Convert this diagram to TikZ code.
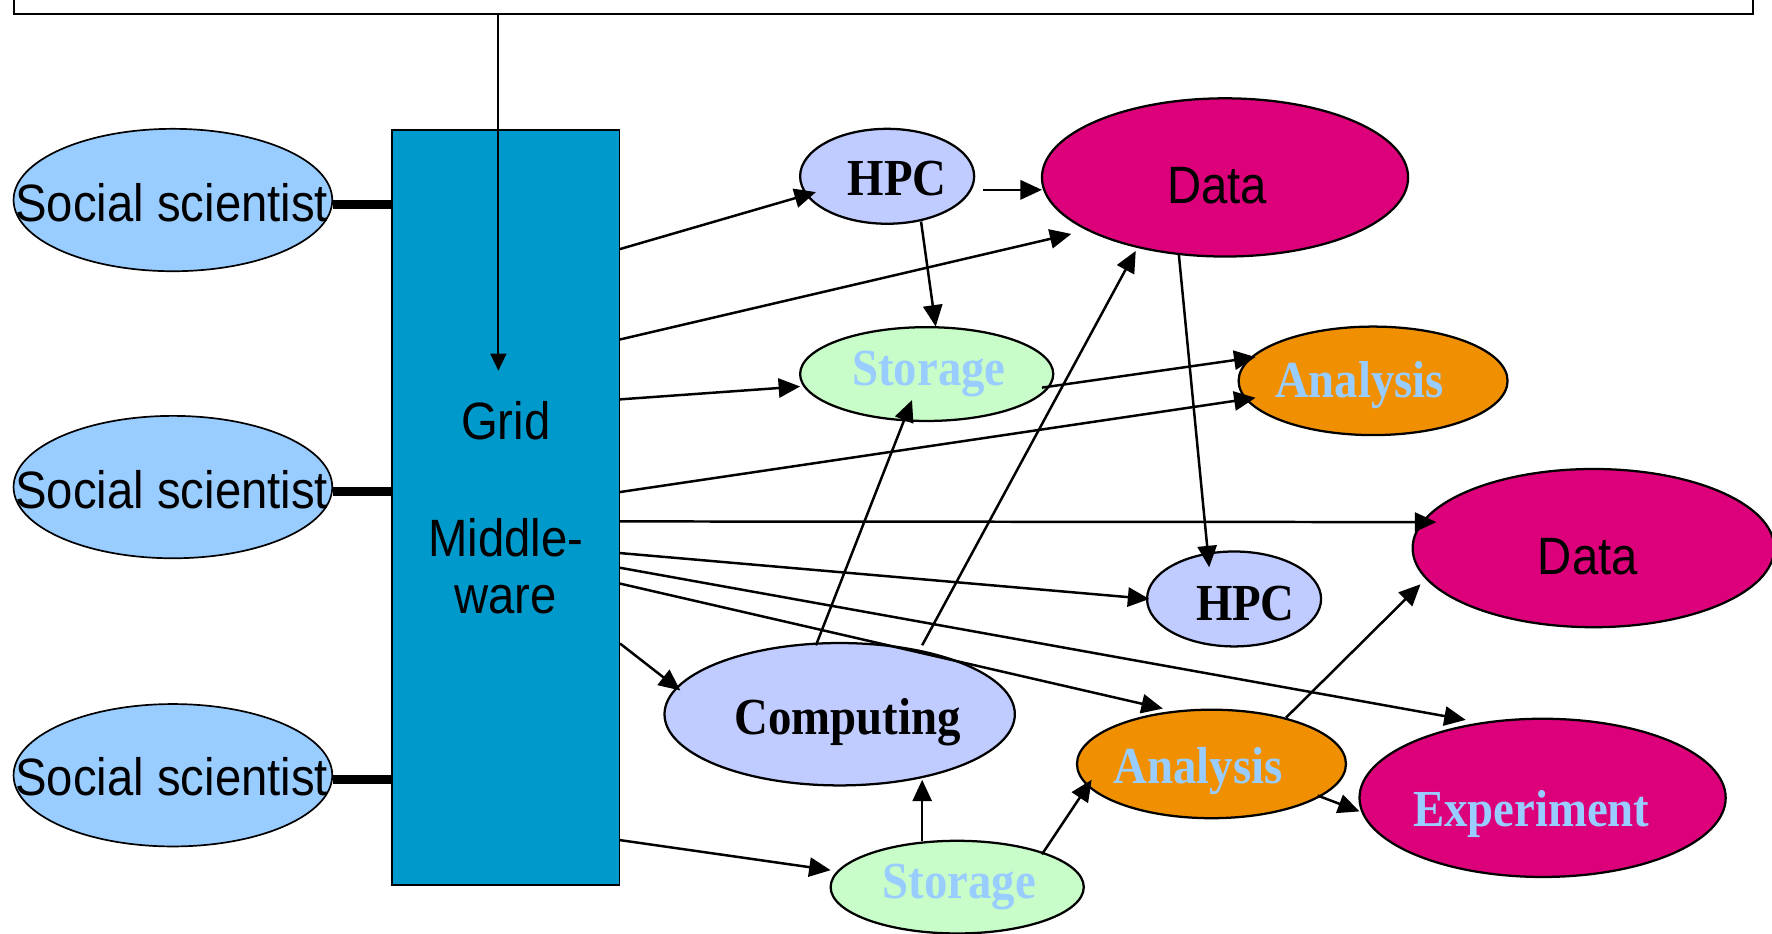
\documentclass[tikz,border=0pt]{standalone}
\usepackage{fontspec}
\setmainfont{Liberation Sans}[FakeStretch=0.9]
\newfontfamily\tnr{Liberation Serif}[FakeStretch=0.9]
\usetikzlibrary{shapes.geometric,arrows.meta}
\definecolor{ssblue}{HTML}{99CCFF}
\definecolor{mwblue}{HTML}{0099CC}
\definecolor{peri}{HTML}{C0CCFF}
\definecolor{magen}{HTML}{DC007A}
\definecolor{stgreen}{HTML}{C8FCC8}
\definecolor{anaor}{HTML}{F09000}
\definecolor{labblue}{HTML}{99CCFF}
\begin{document}
\begin{tikzpicture}[x=1pt,y=-1pt,
  ell/.style={ellipse, draw, line width=2pt, inner sep=0pt},
  ssnode/.style={ell, fill=ssblue, minimum width=282pt, minimum height=126pt, line width=1.5pt},
  hpcnode/.style={ell, fill=peri, minimum width=154pt, minimum height=84pt},
  datanode/.style={ell, fill=magen, minimum width=324pt, minimum height=140pt},
  stonode/.style={ell, fill=stgreen, minimum width=224pt, minimum height=83pt},
  ananode/.style={ell, fill=anaor, minimum width=238pt, minimum height=96pt},
  sanstxt/.style={anchor=base, inner sep=0pt, font=\fontsize{46.5}{50}\selectfont},
  seriftxt/.style={anchor=base, inner sep=0pt, font=\tnr\bfseries\fontsize{46}{50}\selectfont},
  lighttxt/.style={seriftxt, text=labblue},
  arr/.style={line width=2.2pt, -{Triangle[length=19pt,width=17pt]}},
  arrthin/.style={line width=1.8pt, -{Triangle[length=15pt,width=14pt]}},
  thickline/.style={line width=8pt},
]
\useasboundingbox (0,0) rectangle (1568,826);
\fill[white] (0,0) rectangle (1568,826);
\clip (0,0) rectangle (1568,826);

% top note box (cut off by the picture edge)
\node[draw, line width=1.8pt, minimum width=1539pt, minimum height=80pt, inner sep=0pt] (note) at (781.5,-28) {};

% social scientists
\node[ssnode] (ss1) at (153,177) {};
\node[ssnode] (ss2) at (153,431) {};
\node[ssnode] (ss3) at (153,686) {};

% middleware
\node[draw, line width=1.2pt, fill=mwblue, minimum width=201pt, minimum height=668pt, inner sep=0pt,
      align=center, font=\fontsize{46.5}{50}\selectfont] (mw) at (447.5,449) {Grid\\[54pt]Middle-\\ware};

% resources
\node[hpcnode] (hpc1) at (785,156) {};
\node[datanode] (data1) at (1084,157) {};
\node[stonode] (sto1) at (820,331) {};
\node[ananode] (ana1) at (1215,337) {};
\node[datanode, minimum width=320pt] (data2) at (1410,485) {};
\node[hpcnode] (hpc2) at (1092,530) {};
\node[ell, fill=peri, minimum width=310pt, minimum height=126pt] (comp) at (743,632) {};
\node[ananode] (ana2) at (1072,676) {};
\node[datanode] (exp) at (1365,706) {};
\node[stonode, minimum height=82pt] (sto2) at (847,785) {};

% texts
\node[sanstxt] (ss1t) at ([shift={(-1,19)}]ss1.center) {Social scientist};
\node[sanstxt] (ss2t) at ([shift={(-1,19)}]ss2.center) {Social scientist};
\node[sanstxt] (ss3t) at ([shift={(-1,18)}]ss3.center) {Social scientist};
\node[seriftxt] (hpc1t) at ([shift={(9,17)}]hpc1.center) {HPC};
\node[sanstxt] (data1t) at ([shift={(-7,23)}]data1.center) {Data};
\node[lighttxt] (sto1t) at ([shift={(2,10)}]sto1.center) {Storage};
\node[lighttxt] (ana1t) at ([shift={(-12,15)}]ana1.center) {Analysis};
\node[sanstxt] (data2t) at ([shift={(-5,23)}]data2.center) {Data};
\node[seriftxt] (hpc2t) at ([shift={(10,19)}]hpc2.center) {HPC};
\node[seriftxt] (compt) at ([shift={(7,18)}]comp.center) {Computing};
\node[lighttxt] (ana2t) at ([shift={(-12,17)}]ana2.center) {Analysis};
\node[lighttxt] (expt) at ([shift={(-10,25)}]exp.center) {Experiment};
\node[lighttxt] (sto2t) at ([shift={(2,10)}]sto2.center) {Storage};

% thick links scientists -> middleware
\coordinate (c1) at ([yshift=-4pt]ss1.east);
\coordinate (c2) at ([yshift=-4pt]ss2.east);
\coordinate (c3) at ([yshift=-4pt]ss3.east);
\draw[thickline] (c1) -- (c1 -| mw.west);
\draw[thickline] (c2) -- (c2 -| mw.west);
\draw[thickline] (c3) -- (c3 -| mw.west);

% arrow from note into middleware
\draw[arrthin] ([xshift=-340.5pt]note.south) -- ([shift={(-6.5,-121)}]mw.center);

% arrows
\draw[arr] ([shift={(0,106)}]mw.north east) -- ([shift={(-63,14)}]hpc1.center);
\draw[arr] ([shift={(85,12)}]hpc1.center) -- ([shift={(-162,11)}]data1.center);
\draw[arr] ([shift={(0,186)}]mw.north east) -- ([shift={(-136,50)}]data1.center);
\draw[arr] ([shift={(30,40)}]hpc1.center) -- ([shift={(8,-42)}]sto1.center);
\draw[arr] ([shift={(0,239)}]mw.north east) -- ([shift={(-112,11)}]sto1.center);
\draw[arr] ([shift={(102,12)}]sto1.center) -- ([shift={(-104,-21)}]ana1.center);
\draw[arr] ([shift={(0,321)}]mw.north east) -- ([shift={(-104,15)}]ana1.center);
\draw[arr] ([shift={(0,347)}]mw.north east) -- ([shift={(-139,-23)}]data2.center);
\draw[arr] ([shift={(-41,67)}]data1.center) -- ([shift={(-22,-28)}]hpc2.center);
\draw[arr] ([shift={(0,375)}]mw.north east) -- ([shift={(-75,0)}]hpc2.center);
\draw[arr] ([shift={(0,388)}]mw.north east) -- ([shift={(-68,-69)}]exp.center);
\draw[arr] ([shift={(0,402)}]mw.north east) -- ([shift={(-43,-49)}]ana2.center);
\draw[arr] ([shift={(0,455)}]mw.north east) -- ([shift={(-141,-21)}]comp.center);
\draw[arr] ([shift={(-21,-61)}]comp.center) -- ([shift={(-13,23)}]sto1.center);
\draw[arr] ([shift={(73,-61)}]comp.center) -- ([shift={(-79,65)}]data1.center);
\draw[arr] ([shift={(66,-41)}]ana2.center) -- ([shift={(-153,32)}]data2.center);
\draw[arr] ([shift={(94,28)}]ana2.center) -- ([shift={(-162,12)}]exp.center);
\draw[arr] ([shift={(-31,-41)}]sto2.center) -- ([shift={(73,58)}]comp.center);
\draw[arr] ([shift={(75,-29)}]sto2.center) -- ([shift={(-106,14)}]ana2.center);
\draw[arr] ([shift={(0,629)}]mw.north east) -- ([shift={(-112,-15)}]sto2.center);
\end{tikzpicture}
\end{document}
